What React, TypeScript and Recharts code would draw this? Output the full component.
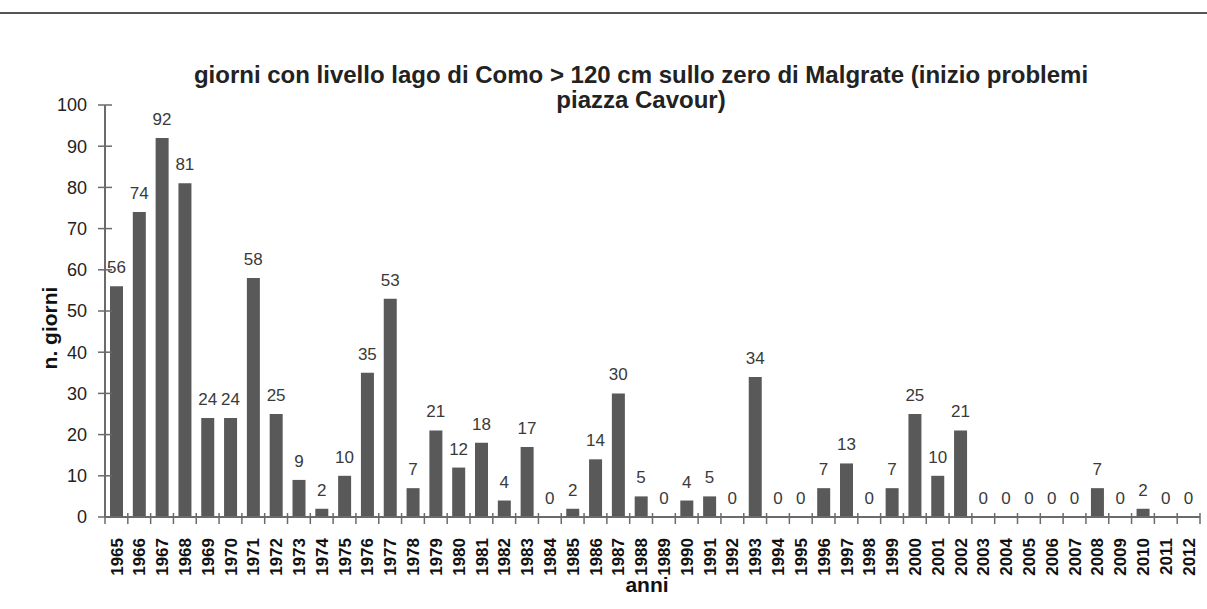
import { ComposedChart, Bar, Line, XAxis, YAxis, LabelList } from 'recharts'

const years = [
  '1965', '1966', '1967', '1968', '1969', '1970', '1971', '1972', '1973', '1974',
  '1975', '1976', '1977', '1978', '1979', '1980', '1981', '1982', '1983', '1984',
  '1985', '1986', '1987', '1988', '1989', '1990', '1991', '1992', '1993', '1994',
  '1995', '1996', '1997', '1998', '1999', '2000', '2001', '2002', '2003', '2004',
  '2005', '2006', '2007', '2008', '2009', '2010', '2011', '2012',
]
const giorni = [
  56, 74, 92, 81, 24, 24, 58, 25, 9, 2,
  10, 35, 53, 7, 21, 12, 18, 4, 17, 0,
  2, 14, 30, 5, 0, 4, 5, 0, 34, 0,
  0, 7, 13, 0, 7, 25, 10, 21, 0, 0,
  0, 0, 0, 7, 0, 2, 0, 0,
]
const yTicks = [0, 10, 20, 30, 40, 50, 60, 70, 80, 90, 100]

const TITLE_1 = 'giorni con livello lago di Como > 120 cm sullo zero di Malgrate (inizio problemi'
const TITLE_2 = 'piazza Cavour)'

const data = years.map((year, i) => ({ year, giorni: giorni[i] }))

const FONT = '"Liberation Sans", Arial, sans-serif'
const AXIS = '#6b6b6b'
const PLOT_W = 1095
const BAND = PLOT_W / years.length

function XTick({ x, y, payload, index }: any) {
  const axisY = y - 2 // tickSize 0 + tickMargin 2
  const left = x - BAND / 2
  return (
    <g>
      <line x1={left} x2={left} y1={axisY - 4} y2={axisY + 7} stroke={AXIS} strokeWidth={1.5} />
      {index === years.length - 1 && (
        <line x1={x + BAND / 2} x2={x + BAND / 2} y1={axisY - 4} y2={axisY + 7} stroke={AXIS} strokeWidth={1.5} />
      )}
      <text
        x={x}
        y={axisY + 21}
        transform={`rotate(-90 ${x} ${axisY + 21})`}
        textAnchor="end"
        dy="0.36em"
        fontSize={17}
        fontWeight={700}
        fontFamily={FONT}
        fill="#111"
      >
        {payload.value}
      </text>
    </g>
  )
}

function YTick({ x, y, payload }: any) {
  // x = axis - tickSize(0) - tickMargin(18)
  return (
    <g>
      <line x1={x + 11} x2={x + 25} y1={y} y2={y} stroke={AXIS} strokeWidth={1.5} />
      <text x={x} y={y} dy="0.36em" textAnchor="end" fontSize={18} fontFamily={FONT} fill="#222">
        {payload.value}
      </text>
    </g>
  )
}

export default function App() {
  return (
    <div style={{ position: 'absolute', left: 0, top: 0, width: 1207, height: 609, background: '#fff', fontFamily: FONT }}>
      <div style={{ position: 'absolute', left: 0, top: 12, width: 1207, height: 0, borderTop: '2px solid #555' }} />
      <div
        style={{
          position: 'absolute', left: 0, top: 62, width: 1282, textAlign: 'center',
          fontWeight: 700, fontSize: 24, lineHeight: '25px', color: '#222',
        }}
      >
        {TITLE_1}
        <br />
        {TITLE_2}
      </div>
      <div
        style={{
          position: 'absolute', left: 50, top: 328, transform: 'translate(-50%, -50%) rotate(-90deg)',
          fontWeight: 700, fontSize: 21, color: '#111', whiteSpace: 'nowrap',
        }}
      >
        n. giorni
      </div>
      <div
        style={{
          position: 'absolute', left: 647, top: 585, transform: 'translate(-50%, -50%)',
          fontWeight: 700, fontSize: 21, color: '#111',
        }}
      >
        anni
      </div>
      <ComposedChart
        width={1207}
        height={609}
        data={data}
        margin={{ top: 105, right: 7, bottom: 0, left: 0 }}
        barCategoryGap={0}
      >
        <XAxis
          dataKey="year"
          height={92}
          interval={0}
          tickLine={false}
          tickSize={0}
          tickMargin={2}
          tick={<XTick />}
          axisLine={{ stroke: AXIS, strokeWidth: 2 }}
        />
        <YAxis
          width={105}
          domain={[0, 100]}
          ticks={yTicks}
          interval={0}
          tickLine={false}
          tickSize={0}
          tickMargin={18}
          tick={<YTick />}
          axisLine={{ stroke: AXIS, strokeWidth: 2 }}
        />
        <Bar dataKey="giorni" fill="#595959" barSize={13} isAnimationActive={false} />
        <Line dataKey="giorni" stroke="none" dot={false} activeDot={false} isAnimationActive={false}>
          <LabelList dataKey="giorni" position="top" offset={13} fontSize={17} fontFamily={FONT} fill="#3a3a3a" />
        </Line>
      </ComposedChart>
    </div>
  )
}
